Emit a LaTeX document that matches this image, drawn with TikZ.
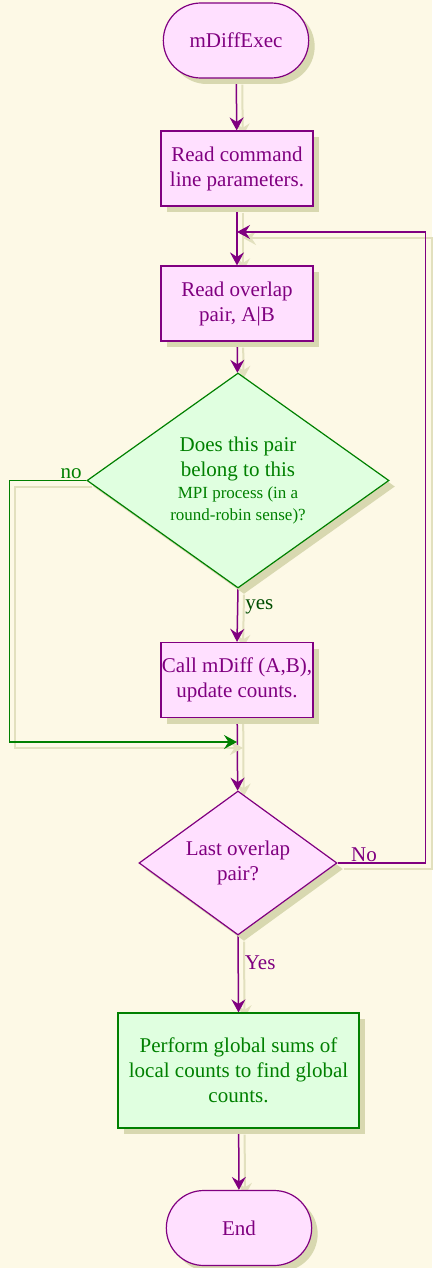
\documentclass[tikz,border=0pt]{standalone}
\usepackage{fontspec}
\setmainfont{Liberation Serif}
\usetikzlibrary{arrows.meta,shapes.geometric,shapes.misc,shadows}
\definecolor{paper}{RGB}{253,249,230}
\definecolor{shade}{RGB}{216,216,176}
\definecolor{lshade}{RGB}{226,224,190}
\definecolor{plum}{RGB}{128,0,128}
\definecolor{pinkfill}{RGB}{255,224,255}
\definecolor{leaf}{RGB}{0,128,0}
\definecolor{mintfill}{RGB}{224,255,224}
\pgfdeclarelayer{back}
\pgfdeclarelayer{wires}
\pgfsetlayers{back,wires,main}

\begin{document}
\begin{tikzpicture}[x=1pt, y=-1pt, every node/.style={font=\fontsize{21}{25}\selectfont, align=center}, >={Stealth[length=13pt, width=14pt, inset=4.5pt]},
  sh/.style={drop shadow={shadow xshift=6pt, shadow yshift=-6pt, fill=shade, opacity=1}},
  term/.style={rounded rectangle, draw=plum, line width=1.2pt, fill=pinkfill, text=plum, minimum width=152pt, minimum height=75pt, sh},
  pbox/.style={draw=plum, line width=1.2pt, fill=pinkfill, text=plum, inner xsep=0pt, minimum width=152pt, minimum height=75pt, sh},
  gbox/.style={draw=leaf, line width=1.2pt, fill=mintfill, text=leaf, inner xsep=0pt, minimum width=241pt, minimum height=115pt, sh},
  pdec/.style={diamond, draw=plum, line width=1.2pt, fill=pinkfill, text=plum, inner sep=0pt, shape aspect=1.4, minimum width=198pt, minimum height=144pt, sh},
  gdec/.style={diamond, draw=leaf, line width=1.2pt, fill=mintfill, text=leaf, inner sep=0pt, shape aspect=1.4, minimum width=302pt, minimum height=215pt, sh},
  wsh/.style={preaction={draw=lshade, line width=2pt, transform canvas={xshift=6pt, yshift=-6pt}}},
  flow/.style={->, draw=plum, line width=1.5pt, wsh},
  noflow/.style={->, draw=leaf, line width=1.5pt, wsh},
  lbl/.style={inner sep=1pt}]
	\begin{pgfonlayer}{back}\fill[paper] (0,0) rectangle (432,1268);\end{pgfonlayer}
	\node[term] (start) at (236,40.5) {mDiffExec};
	\node[pbox] (readcmd) at (237,168.5) {Read command\\line parameters.};
	\node[pbox] (readpair) at (237,303.5) {Read overlap\\pair, A|B};
	\node[gdec] (mine) at (238,480.5) {Does this pair\\belong to this\\[-3pt]{\fontsize{17}{20}\selectfont MPI process (in a}\\[-3pt]{\fontsize{17}{20}\selectfont round-robin sense)?}};
	\node[pbox] (calldiff) at (237,680) {Call mDiff (A,B),\\update counts.};
	\node[pdec] (lastpair) at (238,863) {Last overlap\\pair?};
	\node[gbox] (gsum) at (238.5,1070.5) {Perform global sums of\\local counts to find global\\counts.};
	\node[term] (stop) at (239,1228) {End};
	\coordinate (loopin) at (237,232);
	\coordinate (merge) at (237,742);
	\begin{pgfonlayer}{wires}
	\foreach \a/\b in {start/readcmd, readcmd/readpair, readpair/mine, calldiff/lastpair, gsum/stop} {\draw[flow] (\a) -- (\b);}
	\draw[flow] (mine.south) -- node[lbl, right, xshift=6pt, pos=0.35, text=leaf!60!black] (yes) {yes} (calldiff.north);
	\draw[flow] (lastpair.south) -- node[lbl, right, xshift=5pt, pos=0.35] (Yes) {\textcolor{plum}{Yes}} (gsum.north);
	\draw[noflow] (mine.west) -- node[lbl, above, pos=0.2] (no) {\textcolor{leaf}{no}} ++(-77,0) |- (merge);
	\draw[flow, line width=1.2pt] (lastpair.east) -- node[lbl, above, pos=0.3] (No) {\textcolor{plum}{No}} ++(88,0) |- (loopin);
	\end{pgfonlayer}
\end{tikzpicture}
\end{document}
